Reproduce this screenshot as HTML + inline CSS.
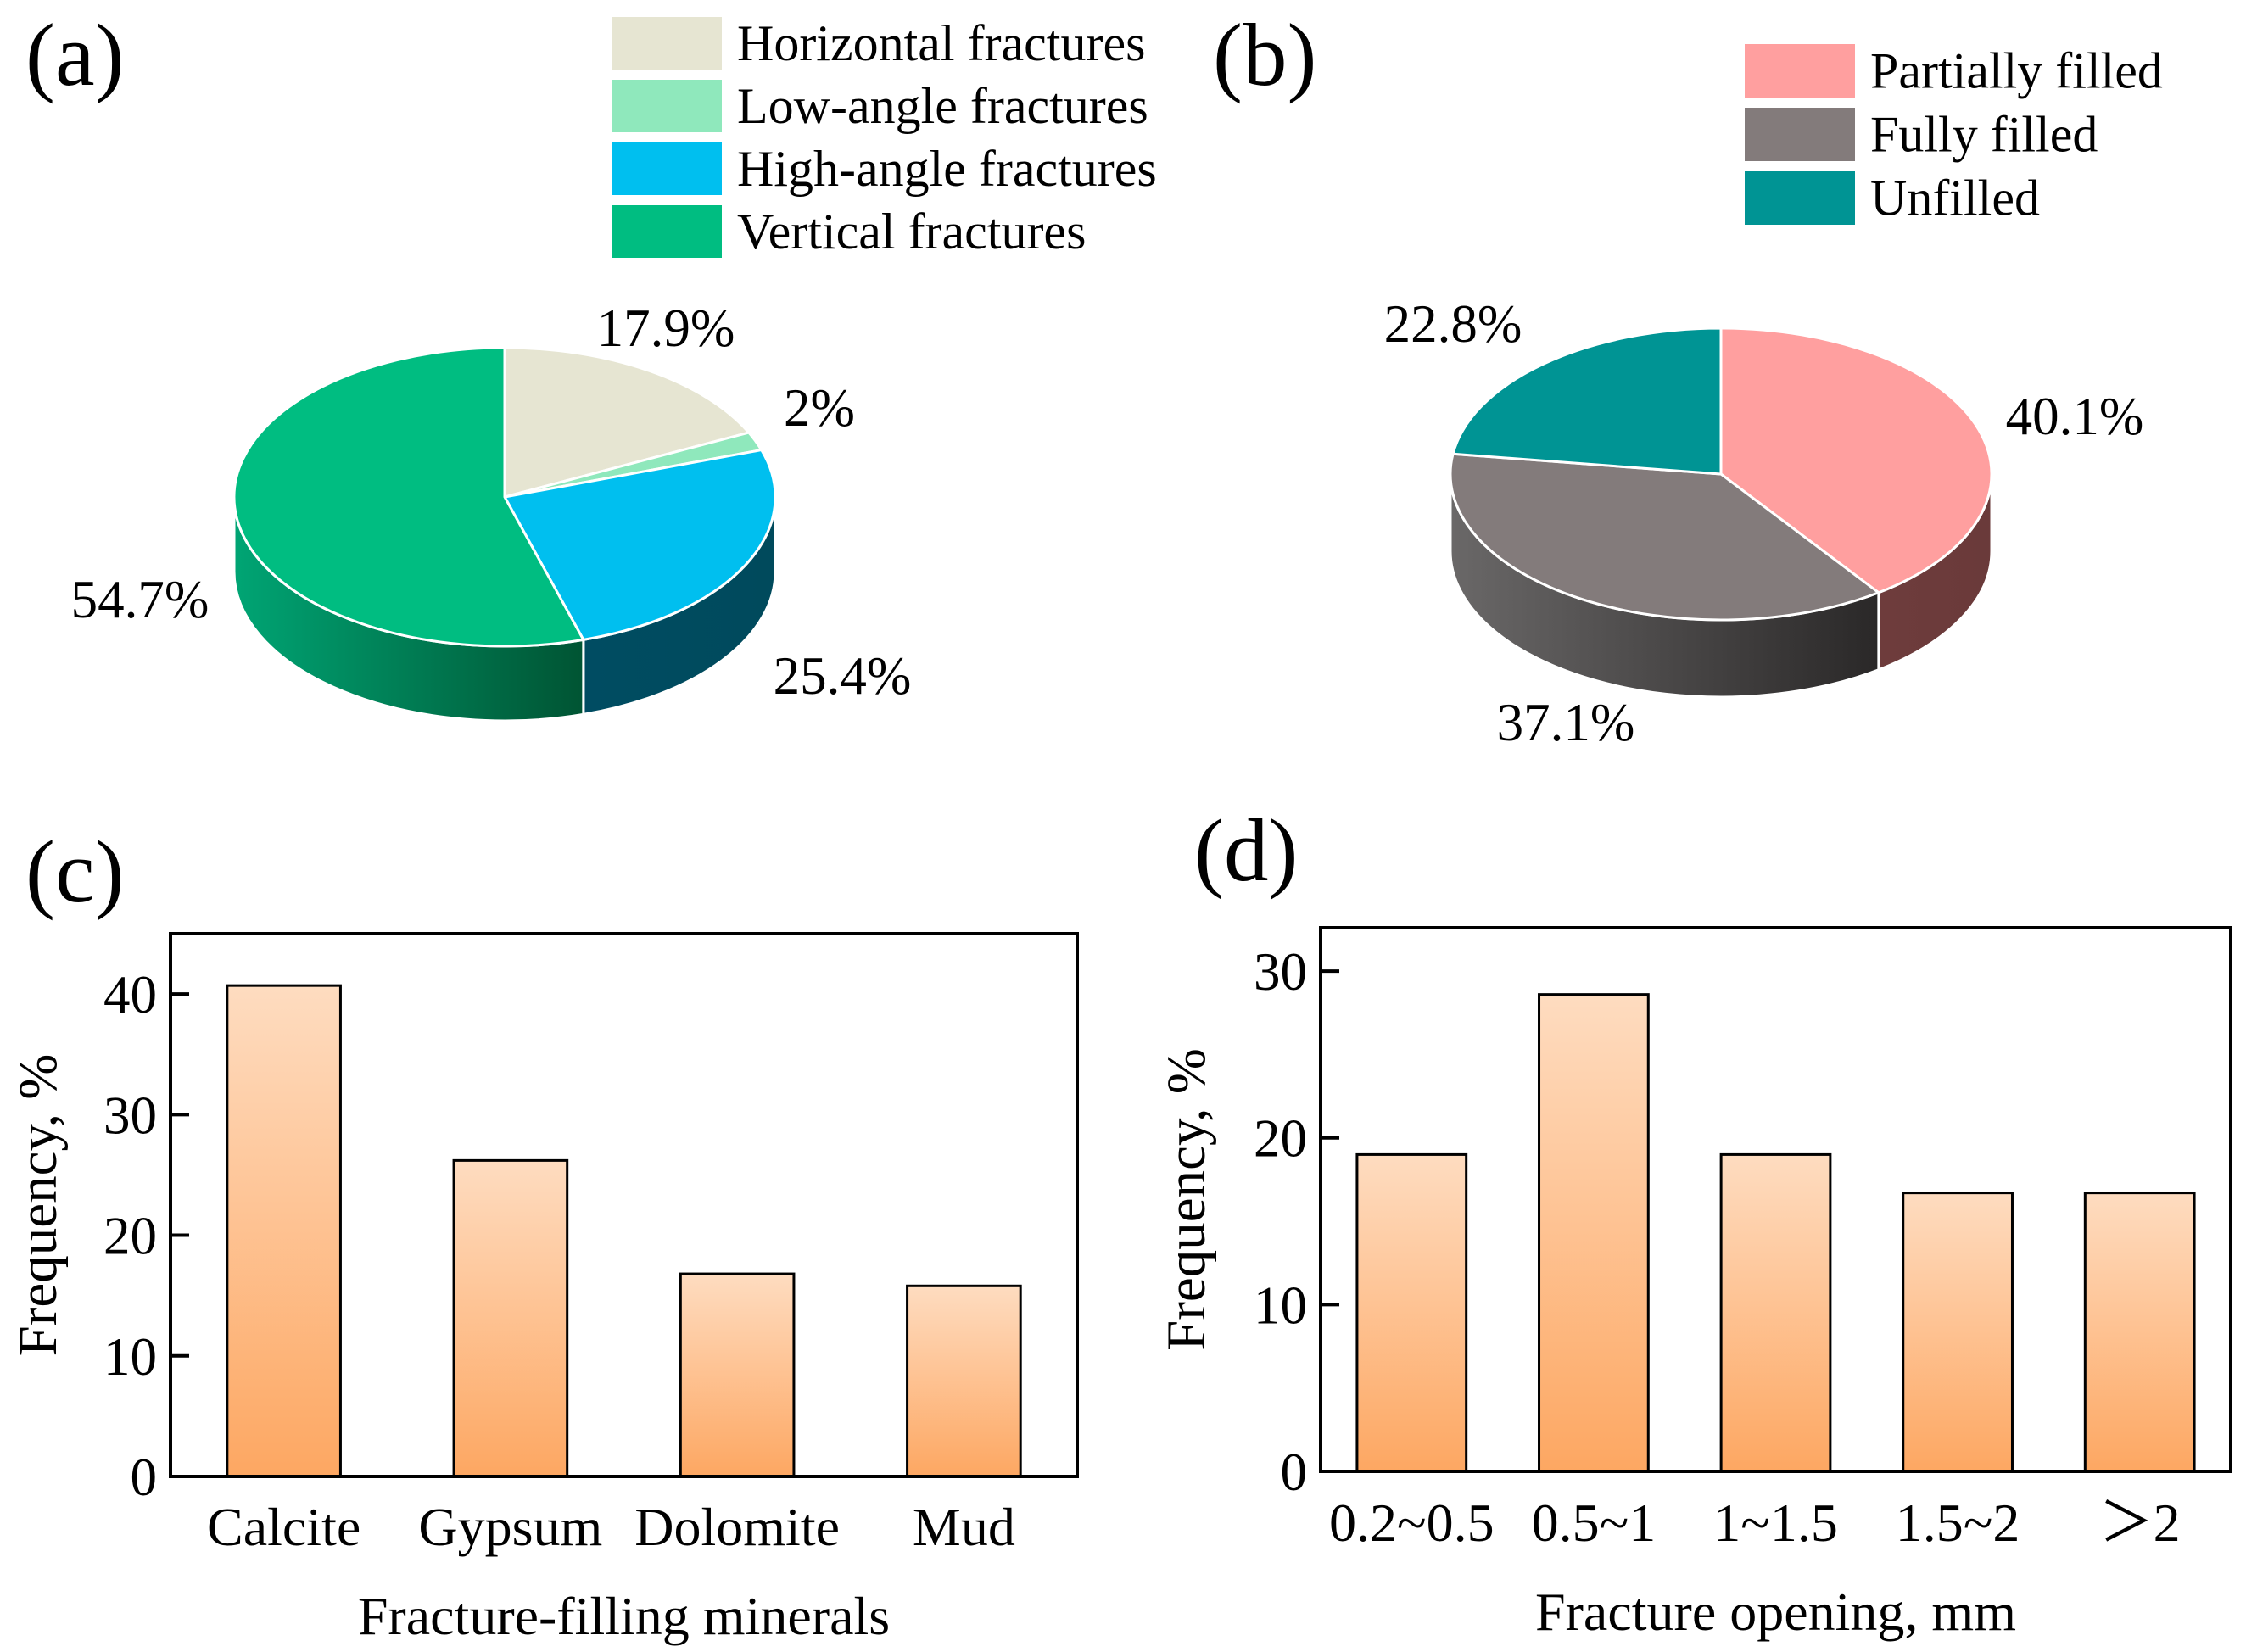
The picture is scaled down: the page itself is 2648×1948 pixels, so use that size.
<!DOCTYPE html>
<html><head><meta charset="utf-8"><style>
html,body{margin:0;padding:0;background:#fff}
svg{display:block}
text{font-family:"Liberation Serif",serif;fill:#000}
</style></head><body>
<svg id="fig" width="2648" height="1948" viewBox="0 0 2648 1948" xmlns="http://www.w3.org/2000/svg">
<defs>
<linearGradient id="barGrad" x1="0" y1="0" x2="0" y2="1"><stop offset="0" stop-color="#fedcc0"/><stop offset="1" stop-color="#fda762"/></linearGradient>
<linearGradient id="gVert" x1="0" y1="0" x2="1" y2="0"><stop offset="0" stop-color="#00a574"/><stop offset="1" stop-color="#005433"/></linearGradient>
<linearGradient id="gHigh" x1="0" y1="0" x2="1" y2="0"><stop offset="0" stop-color="#004c62"/><stop offset="1" stop-color="#004a5c"/></linearGradient>
<linearGradient id="gFully" x1="0" y1="0" x2="1" y2="0"><stop offset="0" stop-color="#6a6868"/><stop offset="1" stop-color="#2a2828"/></linearGradient>
<linearGradient id="gPart" x1="0" y1="0" x2="1" y2="0"><stop offset="0" stop-color="#6e3c3c"/><stop offset="1" stop-color="#6a3a3a"/></linearGradient>
<linearGradient id="gUn" x1="0" y1="0" x2="1" y2="0"><stop offset="0" stop-color="#006060"/><stop offset="1" stop-color="#005050"/></linearGradient>
</defs>
<text x="30" y="100" font-size="105">(a)</text>
<text x="1430" y="100" font-size="105">(b)</text>
<text x="30" y="1063" font-size="105">(c)</text>
<text x="1408" y="1038" font-size="105">(d)</text>
<g id="pieA"></g>
<g id="pieB"></g>
<g id="barC"></g>
<g id="barD"></g>
</svg>
<script>
// Pie (a) data
const pieALabels = ["Horizontal fractures","Low-angle fractures","High-angle fractures","Vertical fractures"];
const pieAValues = [17.9, 2, 25.4, 54.7];
const pieAText = ["17.9%","2%","25.4%","54.7%"];
// Pie (b) data
const pieBLabels = ["Partially filled","Fully filled","Unfilled"];
const pieBValues = [40.1, 37.1, 22.8];
const pieBText = ["40.1%","37.1%","22.8%"];
// Bar (c) data
const barCCats = ["Calcite","Gypsum","Dolomite","Mud"];
const barCValues = [40.7, 26.2, 16.8, 15.8];
const barCTicks = [0,10,20,30,40];
// Bar (d) data
const barDCats = ["0.2~0.5","0.5~1","1~1.5","1.5~2","\uFF1E2"];
const barDValues = [19.0, 28.6, 19.0, 16.7, 16.7];
const barDTicks = [0,10,20,30];

const NS="http://www.w3.org/2000/svg";
function mk(parent,tag,attrs,txt){const e=document.createElementNS(NS,tag);for(const k in attrs)e.setAttribute(k,attrs[k]);if(txt!==undefined)e.textContent=txt;parent.appendChild(e);return e;}

function drawPie(g,o){
  const {cx,cy,rx,ry,depth,values,topColors,sideFills,labels,texts,labelPos,legend}=o;
  const total=values.reduce((a,b)=>a+b,0);
  const P=(t,d)=>[cx+rx*Math.sin(t),cy-ry*Math.cos(t)+(d||0)];
  let a=0;const angs=[];
  values.forEach(v=>{const b=a+v/total*2*Math.PI;angs.push([a,b]);a=b;});
  angs.forEach(([a1,b1],i)=>{
    const s=Math.max(a1,Math.PI/2),e=Math.min(b1,3*Math.PI/2);
    if(e<=s)return;
    const p1=P(s),p2=P(e),q2=P(e,depth),q1=P(s,depth);
    const d=`M${p1} A${rx},${ry} 0 0 1 ${p2} L${q2} A${rx},${ry} 0 0 0 ${q1} Z`;
    const el=mk(g,'path',{d:d,fill:sideFills[i],stroke:'#fff','stroke-width':3});
    
    
  });
  angs.forEach(([a1,b1],i)=>{
    const p1=P(a1),p2=P(b1);const large=(b1-a1)>Math.PI?1:0;
    const d=`M${cx},${cy} L${p1} A${rx},${ry} 0 ${large} 1 ${p2} Z`;
    const el=mk(g,'path',{d:d,fill:topColors[i],stroke:'#fff','stroke-width':3,'stroke-linejoin':'round'});
    
    
  });
  texts.forEach((t,i)=>{
    const el=mk(g,'text',{x:labelPos[i][0],y:labelPos[i][1],'font-size':63,'text-anchor':'middle'},t);
    
    
  });
  labels.forEach((l,i)=>{
    const r=mk(g,'rect',{x:legend.x,y:legend.y+i*legend.step,width:130,height:legend.h,fill:topColors[i]});
    
    
    const t=mk(g,'text',{x:legend.x+148,y:legend.y+i*legend.step+legend.h*0.82,'font-size':60},l);
    
    
  });
}
drawPie(document.getElementById('pieA'),{cx:595,cy:586,rx:319,ry:176,depth:88,values:pieAValues,
  topColors:['#e6e5d2','#8fe8bc','#00bfef','#00bd81'],sideFills:['#c8c8b0','#6cc79c','url(#gHigh)','url(#gVert)'],
  labels:pieALabels,texts:pieAText,labelPos:[[785,408],[966,502],[993,818],[165,728]],
  legend:{x:721,y:20,step:74,h:62}});
drawPie(document.getElementById('pieB'),{cx:2029,cy:559,rx:319,ry:172,depth:91,values:pieBValues,
  topColors:['#ff9f9f','#837b7b','#009494'],sideFills:['url(#gPart)','url(#gFully)','url(#gUn)'],
  labels:pieBLabels,texts:pieBText,labelPos:[[2446,512],[1846,873],[1713,403]],
  legend:{x:2057,y:52,step:75,h:63}});

function drawBar(g,o){
  const {x0,x1,y0,y1,max,cats,vals,ticks,barFrac,ytitle,xtitle,tickY,titleY,ytx}=o;
  const ys=v=>y0-(v/max)*(y0-y1);
  const bw=(x1-x0)/cats.length;
  const xs=i=>x0+bw*(i+0.5);
  vals.forEach((v,i)=>{
    const w=bw*barFrac;
    const r=mk(g,'rect',{x:xs(i)-w/2,y:ys(v),width:w,height:y0-ys(v),fill:'url(#barGrad)',stroke:'#000','stroke-width':3});
    
    
  });
  const box=mk(g,'rect',{x:x0,y:y1,width:x1-x0,height:y0-y1,fill:'none',stroke:'#000','stroke-width':4});
  
  
  ticks.forEach(t=>{
    const l=mk(g,'line',{x1:x0,x2:x0+22,y1:ys(t),y2:ys(t),stroke:'#000','stroke-width':4});
    
    
    const tx=mk(g,'text',{x:x0-16,y:ys(t)+22,'font-size':63,'text-anchor':'end'},String(t));
    
    
  });
  cats.forEach((c,i)=>{
    const tx=mk(g,'text',{x:xs(i),y:tickY,'font-size':64,'text-anchor':'middle'},c);
    
    
  });
  const xt=mk(g,'text',{x:(x0+x1)/2,y:titleY,'font-size':64,'text-anchor':'middle'},xtitle);
  
  
  const yc=(y0+y1)/2;
  const yt=mk(g,'text',{x:ytx,y:yc,'font-size':65,'text-anchor':'middle',transform:`rotate(-90 ${ytx} ${yc})`},ytitle);
  
  
}
drawBar(document.getElementById('barC'),{x0:201,x1:1270,y0:1741,y1:1101,max:45,cats:barCCats,vals:barCValues,ticks:barCTicks,barFrac:0.5,
  ytitle:'Frequency, %',xtitle:'Fracture-filling minerals',tickY:1822,titleY:1927,ytx:66});
drawBar(document.getElementById('barD'),{x0:1557,x1:2630,y0:1735,y1:1094,max:32.6,cats:barDCats,vals:barDValues,ticks:barDTicks,barFrac:0.6,
  ytitle:'Frequency, %',xtitle:'Fracture opening, mm',tickY:1817,titleY:1922,ytx:1420});
</script>
</body></html>
